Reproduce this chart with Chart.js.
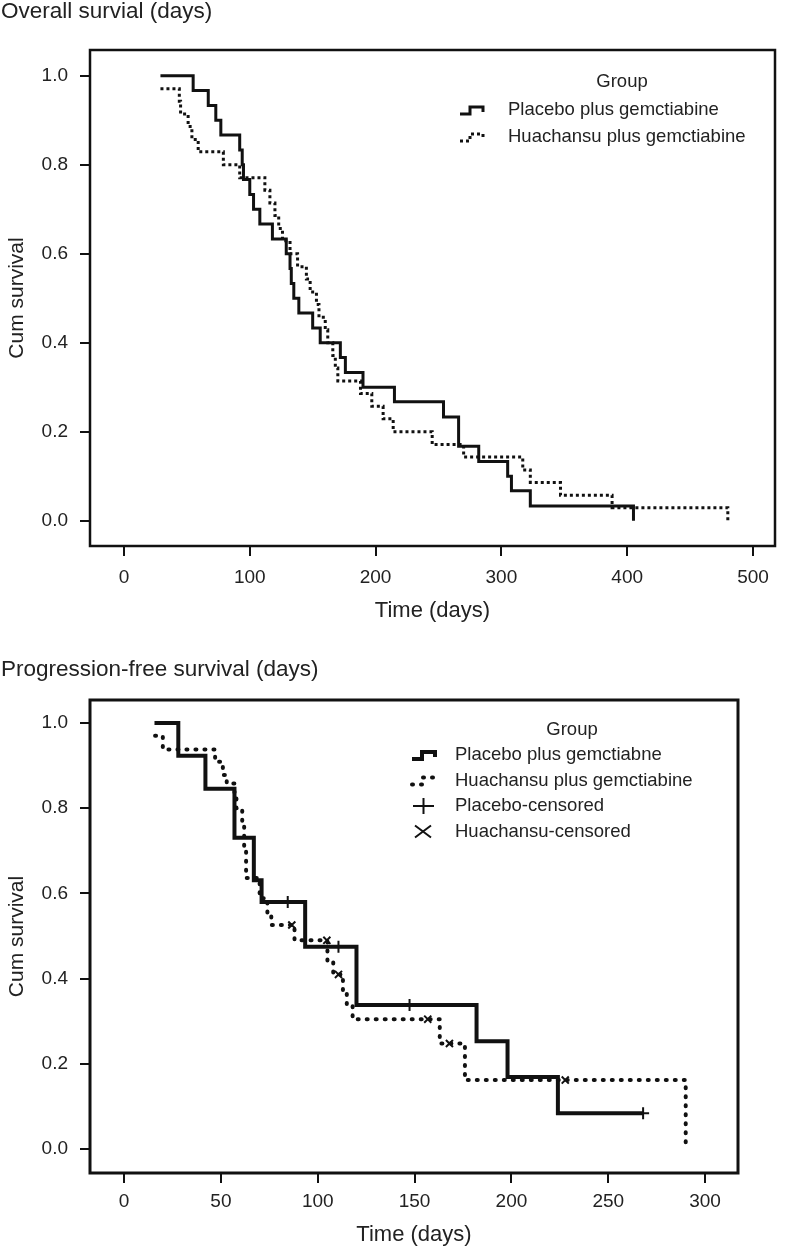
<!DOCTYPE html>
<html>
<head>
<meta charset="utf-8">
<script src="https://cdn.jsdelivr.net/npm/chart.js@4.4.1/dist/chart.umd.min.js"></script>
<style>
  body { margin: 0; background: #fff; width: 791px; height: 1248px; position: relative; overflow: hidden;
         font-family: "Liberation Sans", Arial, sans-serif; color: #222; }
  canvas { position: absolute; left: 0; }
  .ttl { position: absolute; left: 1px; font-size: 22.5px; line-height: 22px; white-space: nowrap; }
</style>
</head>
<body>
<canvas id="os" width="791" height="640" style="top:0"></canvas>
<canvas id="pfs" width="791" height="608" style="top:640px"></canvas>
<div class="ttl" style="top:0px">Overall survial (days)</div>
<div class="ttl" style="top:658px">Progression-free survival (days)</div>
<script>
// ===== KAPLAN-MEIER CURVES — HUACHANSU TRIAL =====

const survTicks = [0, 0.2, 0.4, 0.6, 0.8, 1.0];

// Overall survival
const osTicksX = [0, 100, 200, 300, 400, 500];
const osPlaceboTime = [29, 55, 67, 73, 77, 92, 94, 95, 100, 103, 108, 118, 129, 132, 133, 135, 139, 150, 156, 172, 176, 190, 215, 254, 266, 282, 305, 308, 323, 405];
const osPlaceboSurv = [1.0, 0.967, 0.933, 0.9, 0.867, 0.833, 0.8, 0.767, 0.733, 0.7, 0.667, 0.633, 0.6, 0.567, 0.533, 0.5, 0.467, 0.433, 0.4, 0.367, 0.333, 0.3, 0.267, 0.233, 0.167, 0.133, 0.1, 0.067, 0.033, 0];
const osHuaTime = [29, 44, 45, 51, 54, 59, 79, 92, 112, 116, 120, 123, 126, 132, 138, 145, 148, 153, 155, 160, 162, 166, 168, 170, 188, 197, 206, 214, 245, 270, 317, 323, 347, 388, 480];
const osHuaSurv = [0.971, 0.943, 0.914, 0.886, 0.857, 0.829, 0.8, 0.771, 0.743, 0.714, 0.686, 0.657, 0.629, 0.6, 0.571, 0.543, 0.514, 0.486, 0.457, 0.429, 0.4, 0.371, 0.343, 0.314, 0.286, 0.257, 0.229, 0.2, 0.171, 0.143, 0.114, 0.086, 0.057, 0.029, 0];

// Progression-free survival
const pfsTicksX = [0, 50, 100, 150, 200, 250, 300];
const pfsPlaceboTime = [15.7, 28, 42, 57, 67, 71, 93.5, 120, 182, 198, 224, 268];
const pfsPlaceboSurv = [1.0, 0.923, 0.846, 0.731, 0.631, 0.58, 0.475, 0.338, 0.253, 0.169, 0.084, 0.084];
const pfsHuaTime = [16, 20, 47, 51, 53, 57, 58, 61, 62, 63, 70, 74, 76, 88, 105, 108, 113, 115, 118, 163, 176, 290];
const pfsHuaSurv = [0.97, 0.938, 0.909, 0.878, 0.858, 0.83, 0.8, 0.757, 0.706, 0.636, 0.589, 0.55, 0.526, 0.49, 0.44, 0.41, 0.37, 0.338, 0.305, 0.248, 0.162, 0];
const pfsPlaceboCensorTime = [84.5, 110.7, 147.4, 268];
const pfsPlaceboCensorSurv = [0.58, 0.475, 0.338, 0.084];
const pfsHuaCensorTime = [86.6, 104.7, 110.7, 156.8, 168, 227.8];
const pfsHuaCensorSurv = [0.526, 0.49, 0.41, 0.305, 0.248, 0.162];

const INK = '#111';
const TEXT = '#222';
const FAMILY = '"Liberation Sans", Arial, sans-serif';

const pts = (t, s) => t.map((x, i) => ({ x, y: s[i] }));

// ── symbol for the legend rows ──
function drawSymbol(ctx, kind, x, y, st) {
  ctx.save();
  ctx.strokeStyle = INK;
  if (kind === 'solid' || kind === 'dotted') {
    ctx.lineWidth = st.width;
    ctx.setLineDash(kind === 'dotted' ? st.dash : []);
    ctx.lineCap = kind === 'dotted' ? st.cap : 'butt';
    ctx.beginPath();
    ctx.moveTo(x, y + 4);
    ctx.lineTo(x + 10, y + 4);
    ctx.lineTo(x + 10, y - 3);
    ctx.lineTo(x + 23, y - 3);
    ctx.lineTo(x + 23, y + 2);
    ctx.stroke();
  } else if (kind === 'plus') {
    ctx.lineWidth = 2;
    ctx.beginPath();
    ctx.moveTo(x + 1, y); ctx.lineTo(x + 22, y);
    ctx.moveTo(x + 11.5, y - 8); ctx.lineTo(x + 11.5, y + 8);
    ctx.stroke();
  } else if (kind === 'cross') {
    ctx.lineWidth = 2;
    ctx.beginPath();
    ctx.moveTo(x + 3, y - 6); ctx.lineTo(x + 19, y + 6);
    ctx.moveTo(x + 3, y + 6); ctx.lineTo(x + 19, y - 6);
    ctx.stroke();
  }
  ctx.restore();
}

const groupLegend = {
  id: 'groupLegend',
  afterDraw(chart, args, o) {
    const ctx = chart.ctx;
    ctx.save();
    ctx.fillStyle = TEXT;
    ctx.font = o.size + 'px ' + FAMILY;
    ctx.textBaseline = 'middle';
    ctx.textAlign = 'center';
    ctx.fillText('Group', o.titleX, o.titleY);
    ctx.textAlign = 'left';
    o.items.forEach((it, i) => {
      const y = o.firstY + i * o.gap;
      drawSymbol(ctx, it.kind, o.symX, y, o.lineStyle);
      ctx.fillText(it.label, o.textX, y);
    });
    ctx.restore();
  }
};

// full frame around the plotting area
const frameBox = {
  id: 'frameBox',
  afterDatasetsDraw(chart, args, o) {
    const { ctx, chartArea: a } = chart;
    ctx.save();
    ctx.strokeStyle = INK;
    ctx.lineWidth = o.width;
    ctx.strokeRect(a.left, a.top, a.right - a.left, a.bottom - a.top);
    ctx.restore();
  }
};

function makeKM(id, cfg) {
  const canvas = document.getElementById(id);
  const W = canvas.width, H = canvas.height;
  const b = cfg.box;
  return new Chart(canvas, {
    type: 'line',
    data: { datasets: cfg.datasets },
    options: {
      responsive: false,
      animation: false,
      devicePixelRatio: 1,
      layout: { padding: { top: b.top, right: W - b.right, left: 0, bottom: 0 } },
      elements: { point: { radius: 0 } },
      plugins: {
        legend: { display: false },
        tooltip: { enabled: false },
        groupLegend: cfg.legend,
        frameBox: { width: cfg.frameWidth }
      },
      scales: {
        x: {
          type: 'linear',
          min: cfg.xMin, max: cfg.xMax,
          afterBuildTicks: s => { s.ticks = cfg.xTicks.map(v => ({ value: v })); },
          afterFit: s => { s.height = H - b.bottom; },
          grid: { drawOnChartArea: false, drawTicks: true, tickLength: 10, color: INK, lineWidth: 2 },
          border: { display: false },
          ticks: { color: TEXT, font: { family: FAMILY, size: 19 }, padding: cfg.xTickPad, maxRotation: 0 },
          title: { display: true, text: 'Time (days)', color: TEXT, font: { family: FAMILY, size: 22 },
                   padding: { top: 0, bottom: cfg.xTitlePad } }
        },
        y: {
          type: 'linear',
          min: cfg.yMin, max: cfg.yMax,
          afterBuildTicks: s => { s.ticks = survTicks.map(v => ({ value: v })); },
          afterFit: s => { s.width = b.left; },
          grid: { drawOnChartArea: false, drawTicks: true, tickLength: 10, color: INK, lineWidth: 2 },
          border: { display: false },
          ticks: { color: TEXT, font: { family: FAMILY, size: 19 }, padding: 12, callback: v => v.toFixed(1) },
          title: { display: true, text: 'Cum survival', color: TEXT, font: { family: FAMILY, size: 21 },
                   padding: { top: 5, bottom: 0 } }
        }
      }
    },
    plugins: [frameBox, groupLegend]
  });
}

// ── Overall survival ──
const osLine = { width: 3, dash: [3, 3], cap: 'butt' };
makeKM('os', {
  box: { left: 90, right: 775, top: 50, bottom: 546 },
  xMin: -27, xMax: 517.5, yMin: -0.057, yMax: 1.058,
  xTicks: osTicksX, xTickPad: 10, xTitlePad: 16, frameWidth: 2.5,
  datasets: [
    { label: 'Placebo plus gemctiabine', data: pts(osPlaceboTime, osPlaceboSurv),
      stepped: true, borderColor: INK, borderWidth: 3, fill: false },
    { label: 'Huachansu plus gemctiabine', data: pts(osHuaTime, osHuaSurv),
      stepped: true, borderColor: INK, borderWidth: osLine.width, borderDash: osLine.dash, fill: false }
  ],
  legend: {
    size: 18.5, titleX: 622, titleY: 82, symX: 460, textX: 508, firstY: 110, gap: 27,
    lineStyle: osLine,
    items: [
      { kind: 'solid', label: 'Placebo plus gemctiabine' },
      { kind: 'dotted', label: 'Huachansu plus gemctiabine' }
    ]
  }
});

// ── Progression-free survival ──
const pfsLine = { width: 4, dash: [1, 8], cap: 'round' };
makeKM('pfs', {
  box: { left: 90, right: 738, top: 60, bottom: 533 },
  xMin: -17.6, xMax: 317, yMin: -0.056, yMax: 1.054,
  xTicks: pfsTicksX, xTickPad: 7, xTitlePad: 0, frameWidth: 3,
  datasets: [
    { label: 'Placebo plus gemctiabne', data: pts(pfsPlaceboTime, pfsPlaceboSurv),
      stepped: true, borderColor: INK, borderWidth: 4, fill: false },
    { label: 'Huachansu plus gemctiabine', data: pts(pfsHuaTime, pfsHuaSurv),
      stepped: true, borderColor: INK, borderWidth: pfsLine.width, borderDash: pfsLine.dash,
      borderCapStyle: 'round', fill: false },
    { label: 'Placebo-censored', data: pts(pfsPlaceboCensorTime, pfsPlaceboCensorSurv),
      showLine: false, pointStyle: 'cross', pointRadius: 6, pointBorderWidth: 2, pointBorderColor: INK },
    { label: 'Huachansu-censored', data: pts(pfsHuaCensorTime, pfsHuaCensorSurv),
      showLine: false, pointStyle: 'crossRot', pointRadius: 5, pointBorderWidth: 2, pointBorderColor: INK }
  ],
  legend: {
    size: 18.5, titleX: 572, titleY: 90, symX: 412, textX: 455, firstY: 115, gap: 25.5,
    lineStyle: pfsLine,
    items: [
      { kind: 'solid', label: 'Placebo plus gemctiabne' },
      { kind: 'dotted', label: 'Huachansu plus gemctiabine' },
      { kind: 'plus', label: 'Placebo-censored' },
      { kind: 'cross', label: 'Huachansu-censored' }
    ]
  }
});
</script>
</body>
</html>
